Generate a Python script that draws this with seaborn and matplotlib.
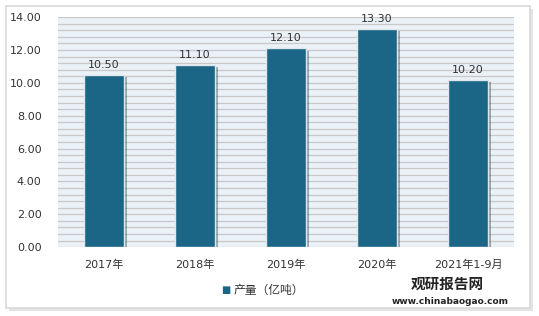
import matplotlib
matplotlib.use('Agg')
import matplotlib.pyplot as plt
import matplotlib.patheffects as pe
from matplotlib.patches import Rectangle
import numpy as np
import pandas as pd
import seaborn as sns

# --- 데이터 ---
years = ['2017年', '2018年', '2019年', '2020年', '2021年1-9月']
output = [10.50, 11.10, 12.10, 13.30, 10.20]
series_name = '产量（亿吨）'

sns.set_style('white')
plt.rcParams['font.family'] = ['DejaVu Sans', 'Noto Sans CJK SC']

df = pd.DataFrame({'year': years, 'value': output})

fig = plt.figure(figsize=(5.39, 3.16), dpi=100, facecolor='white')
# 바깥 테두리 (축보다 뒤에 그림)
fig.patches.append(Rectangle((0.012, 0.025), 0.972, 0.955, transform=fig.transFigure,
                             facecolor='white', edgecolor='#d9d9d9', linewidth=1.2, zorder=-10,
                             path_effects=[pe.SimplePatchShadow(offset=(2, -2), alpha=0.15), pe.Normal()]))
ax = fig.add_axes([0.108, 0.218, 0.845, 0.728])
ax.set_facecolor('#eaf1f7')

bar_color = '#1b6586'
sns.barplot(data=df, x='year', y='value', color=bar_color, width=0.44, ax=ax,
            edgecolor='#dfe6ec', linewidth=1.0, saturation=1)
for p in ax.patches:
    p.set_path_effects([pe.SimplePatchShadow(offset=(2, -2), alpha=0.35), pe.Normal()])
    p.set_zorder(3)

for i, v in enumerate(output):
    ax.text(i, v + 0.3, f'{v:.2f}', ha='center', va='bottom', fontsize=8, color='#333333')

ax.set_ylim(0, 14)
ax.set_yticks(np.arange(0, 14.01, 2))
ax.set_yticklabels([f'{t:.2f}' for t in np.arange(0, 14.01, 2)], fontsize=8, color='#333333')
ax.set_yticks(np.arange(0, 14.01, 0.4), minor=True)
ax.grid(axis='y', which='both', color='#c8c8c8', linewidth=0.9)
ax.set_axisbelow(True)
ax.tick_params(axis='x', labelsize=8, colors='#333333', length=0, pad=9)
ax.tick_params(axis='y', which='both', length=0, pad=12)
ax.set_xlabel('')
ax.set_ylabel('')
for s in ax.spines.values():
    s.set_visible(False)

# 범례
fig.text(0.418, 0.082, '■', fontsize=7, color=bar_color, ha='center', va='center')
fig.text(0.433, 0.082, series_name, fontsize=8.5, color='#333333', ha='left', va='center')

# 워터마크
fig.text(0.83, 0.1, '观研报告网', fontsize=10.5, fontweight='bold', color='#222222', ha='center', va='center')
fig.text(0.835, 0.045, 'www.chinabaogao.com', fontsize=6.5, fontweight='bold', color='#222222',
         ha='center', va='center')

fig.savefig('out.png', dpi=100)
